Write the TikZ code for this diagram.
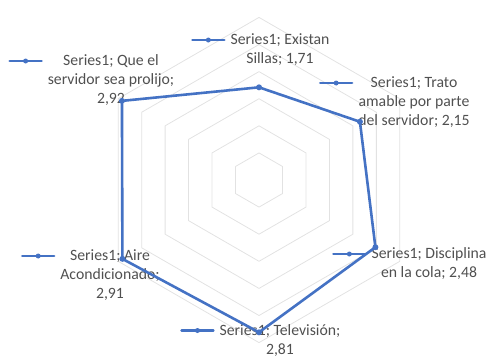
\documentclass[tikz,border=0pt]{standalone}
\usepackage{fontspec}
\setmainfont{Carlito}
\definecolor{serie}{HTML}{4472C4}
\definecolor{etiq}{HTML}{505050}
\definecolor{rejilla}{HTML}{E2E2E2}
\begin{document}
\begin{tikzpicture}[x=1bp,y=1bp,line join=round,line cap=round,
 rejilla/.style={draw=rejilla,line width=0.8bp},
 serie/.style={draw=serie,line width=2.6bp},
 punto/.style={circle,fill=serie,inner sep=0pt,minimum size=6bp},
 etiqueta/.style={anchor=north,align=center,inner sep=0pt,text=etiq,font=\fontsize{15.8}{19}\selectfont},
 clave/.style={draw=serie,line width=2.4bp}]
 \def\u{54.2}
 \useasboundingbox (0,0) rectangle (486,-358);
 % rejilla y valores
 \begin{scope}[shift={(259,-180)}]
  \foreach \r in {0.5,1,...,3}
   \draw[rejilla] (90:\r*\u) -- (30:\r*\u) -- (-30:\r*\u) -- (-90:\r*\u) -- (-150:\r*\u) -- (150:\r*\u) -- cycle;
  \coordinate (sillas) at (90:1.71*\u);
  \coordinate (trato) at (30:2.15*\u);
  \coordinate (cola) at (-30:2.48*\u);
  \coordinate (tele) at (-90:2.81*\u);
  \coordinate (aire) at (-150:2.91*\u);
  \coordinate (prolijo) at (150:2.92*\u);
 \end{scope}
 % etiquetas
 \node[etiqueta] (lsillas) at (280,-33.5) {Series1; Existan\\Sillas; 1,71};
 \node[etiqueta] (ltrato) at (414,-76.5) {Series1; Trato\\amable por parte\\del servidor; 2,15};
 \node[etiqueta] (lcola) at (429,-247.5) {Series1; Disciplina\\en la cola; 2,48};
 \node[etiqueta] (ltele) at (280,-324) {Series1; Televisión;\\2,81};
 \node[etiqueta] (laire) at (110,-249.5) {Series1; Aire\\Acondicionado;\\2,91};
 \node[etiqueta] (lprolijo) at (111,-54.5) {Series1; Que el\\servidor sea prolijo;\\2,92};
 \foreach \n in {lsillas,ltrato,lcola,ltele,laire,lprolijo}
  \draw[clave] ([xshift=-38bp,yshift=-6.5bp]\n.north west) -- node[punto,minimum size=5bp]{} ([xshift=-6bp,yshift=-6.5bp]\n.north west);
 % serie
 \draw[serie] (sillas) -- (trato) -- (cola) -- (tele) -- (aire) -- (prolijo) -- cycle;
 \foreach \p in {sillas,trato,cola,tele,aire,prolijo}
  \node[punto] (m\p) at (\p) {};
\end{tikzpicture}
\end{document}
